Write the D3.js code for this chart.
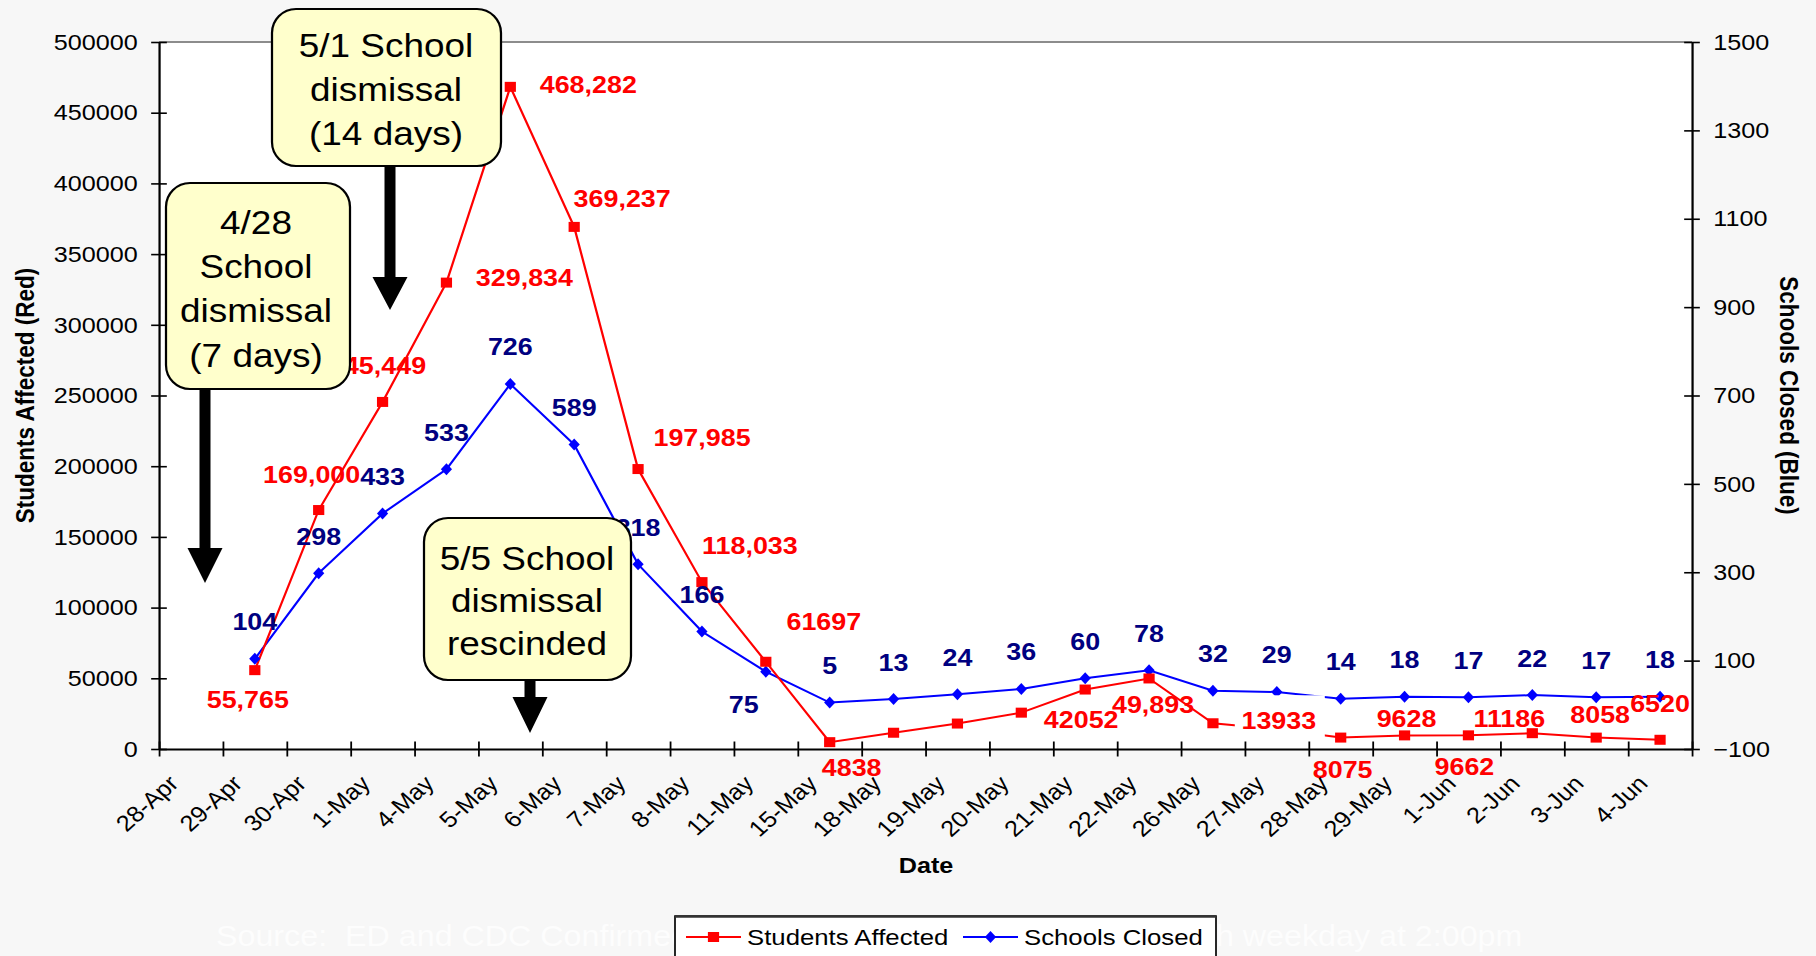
<!DOCTYPE html>
<html>
<head>
<meta charset="utf-8">
<script src="https://cdn.jsdelivr.net/npm/d3@7"></script>
<style>
    html, body { margin: 0; padding: 0; background: #f7f7f7; }
    svg { display: block; font-family: Arial, "Liberation Sans", sans-serif; }
</style>
</head>
<body>
<div class="chart-container"></div>
<script>
// Data
const dates = ['28-Apr', '29-Apr', '30-Apr', '1-May', '4-May', '5-May', '6-May', '7-May', '8-May',
    '11-May', '15-May', '18-May', '19-May', '20-May', '21-May', '22-May', '26-May', '27-May',
    '28-May', '29-May', '1-Jun', '2-Jun', '3-Jun', '4-Jun'];

const studentsAffected = [null, 55765, 169000, 245449, 329834, 468282, 369237, 197985, 118033,
    61697, 4838, 11500, 18000, 25700, 42052, 49893, 18200, 13933,
    8075, 9628, 9662, 11186, 8058, 6520];

const studentLabels = ['', '55,765', '169,000', '245,449', '329,834', '468,282', '369,237', '197,985', '118,033',
    '61697', '4838', '', '', '', '42052', '49,893', '', '13933',
    '8075', '9628', '9662', '11186', '8058', '6520'];

const schoolsClosed = [null, 104, 298, 433, 533, 726, 589, 318, 166,
    75, 5, 13, 24, 36, 60, 78, 32, 29,
    14, 18, 17, 22, 17, 18];

const leftTicks = [0, 50000, 100000, 150000, 200000, 250000, 300000, 350000, 400000, 450000, 500000];
const rightTicks = [-100, 100, 300, 500, 700, 900, 1100, 1300, 1500];

const seriesNames = ['Students Affected', 'Schools Closed'];

// Label placement (offset of label centre from its point, page px)
const redLabelOffset = {
    '29-Apr': [-7, 29], '30-Apr': [-7, -35], '1-May': [-5, -36], '4-May': [78, -5],
    '5-May': [78, -2], '6-May': [48, -28], '7-May': [64, -32], '8-May': [48, -37],
    '11-May': [58, -40], '15-May': [22, 25], '21-May': [-4, 30], '22-May': [4, 26],
    '27-May': [2, -9], '28-May': [2, 32], '29-May': [2, -17], '1-Jun': [-4, 31],
    '2-Jun': [-23, -15], '3-Jun': [4, -23], '4-Jun': [0, -36]
};
const blueLabelOffset = { '11-May': [-22, 33] };

// The original picture is stretched sideways; draw narrower and stretch back
const S = 1.12;
const X = v => v / S;
const W = 1816, H = 956;

const plot = {left: 159, right: 1692, top: 42, bottom: 749};

// Scales
const xScale = d3.scaleBand()
    .domain(dates)
    .range([X(plot.left), X(plot.right)]);

const xEdge = d3.scaleLinear()
    .domain([0, dates.length])
    .range([X(plot.left), X(plot.right)]);

const yLeft = d3.scaleLinear()
    .domain([0, 500000])
    .range([plot.bottom, plot.top]);

const yRight = d3.scaleLinear()
    .domain([-100, 1500])
    .range([plot.bottom, plot.top]);

const cx = d => xScale(d) + xScale.bandwidth() / 2;

// Draw base
const svg = d3.select('.chart-container')
    .append('svg')
    .attr('width', W)
    .attr('height', H)
    .attr('viewBox', `0 0 ${X(W)} ${H}`)
    .attr('preserveAspectRatio', 'none');

svg.append('rect')
    .attr('width', X(W))
    .attr('height', H)
    .attr('fill', '#f7f7f7');

svg.append('rect')
    .attr('x', X(plot.left))
    .attr('y', plot.top)
    .attr('width', X(plot.right - plot.left))
    .attr('height', plot.bottom - plot.top)
    .attr('fill', '#fff');

svg.append('line')
    .attr('x1', X(plot.left)).attr('x2', X(plot.right))
    .attr('y1', plot.top).attr('y2', plot.top)
    .attr('stroke', '#8c8c8c')
    .attr('stroke-width', 2);

// Series
const redPts = dates.map((d, i) => ({date: d, v: studentsAffected[i], label: studentLabels[i]}))
    .filter(d => d.v !== null);
const bluePts = dates.map((d, i) => ({date: d, v: schoolsClosed[i]}))
    .filter(d => d.v !== null);

const redLine = d3.line().x(d => cx(d.date)).y(d => yLeft(d.v));
const blueLine = d3.line().x(d => cx(d.date)).y(d => yRight(d.v));

svg.append('path')
    .datum(bluePts)
    .attr('d', blueLine)
    .attr('fill', 'none')
    .attr('stroke', '#0000ff')
    .attr('stroke-width', 2);

svg.append('path')
    .datum(redPts)
    .attr('d', redLine)
    .attr('fill', 'none')
    .attr('stroke', '#ff0000')
    .attr('stroke-width', 2);

const diamond = 'M0,-6L5,0L0,6L-5,0Z';

svg.selectAll('.blue-marker')
    .data(bluePts)
    .enter()
    .append('path')
    .attr('class', 'blue-marker')
    .attr('d', diamond)
    .attr('transform', d => `translate(${cx(d.date)},${yRight(d.v)})`)
    .attr('fill', '#0000ff');

svg.selectAll('.red-marker')
    .data(redPts)
    .enter()
    .append('rect')
    .attr('class', 'red-marker')
    .attr('x', d => cx(d.date) - 5)
    .attr('y', d => yLeft(d.v) - 5)
    .attr('width', 10)
    .attr('height', 10)
    .attr('fill', '#ff0000');

// 13933 label sits on an opaque white patch
const patched = redPts.find(d => d.date === '27-May');
svg.append('rect')
    .attr('x', cx(patched.date) - X(42))
    .attr('y', yLeft(patched.v) - 34)
    .attr('width', X(90))
    .attr('height', 49)
    .attr('fill', '#fff');

// Data labels
svg.selectAll('.blue-label')
    .data(bluePts)
    .enter()
    .append('text')
    .attr('class', 'blue-label')
    .attr('x', d => cx(d.date) + X((blueLabelOffset[d.date] || [0, -37])[0]))
    .attr('y', d => yRight(d.v) + (blueLabelOffset[d.date] || [0, -37])[1])
    .attr('text-anchor', 'middle')
    .attr('dominant-baseline', 'central')
    .style('font-size', '24px')
    .style('font-weight', 'bold')
    .style('fill', '#000080')
    .text(d => d.v);

svg.selectAll('.red-label')
    .data(redPts.filter(d => d.label))
    .enter()
    .append('text')
    .attr('class', 'red-label')
    .attr('x', d => cx(d.date) + X(redLabelOffset[d.date][0]))
    .attr('y', d => yLeft(d.v) + redLabelOffset[d.date][1])
    .attr('text-anchor', 'middle')
    .attr('dominant-baseline', 'central')
    .style('font-size', '24px')
    .style('font-weight', 'bold')
    .style('fill', '#ff0000')
    .text(d => d.label);

// Axes
const axisStyle = g => {
    g.select('.domain').attr('stroke', '#000').attr('stroke-width', 2);
    g.selectAll('.tick line').attr('stroke', '#000').attr('stroke-width', 1.6);
    g.selectAll('text')
        .style('font-size', '22.5px')
        .style('font-family', 'Arial, "Liberation Sans", sans-serif')
        .style('fill', '#000');
};

const yAxisLeft = svg.append('g')
    .attr('transform', `translate(${X(plot.left)},0)`)
    .call(d3.axisLeft(yLeft).tickValues(leftTicks).tickFormat(d3.format('d'))
        .tickSize(7).tickSizeOuter(0).tickPadding(12))
    .call(axisStyle);
yAxisLeft.selectAll('.tick line').attr('x1', 7);

const yAxisRight = svg.append('g')
    .attr('transform', `translate(${X(plot.right)},0)`)
    .call(d3.axisRight(yRight).tickValues(rightTicks).tickFormat(d3.format('d'))
        .tickSize(7).tickSizeOuter(0).tickPadding(12))
    .call(axisStyle);
yAxisRight.selectAll('.tick line').attr('x1', -7);

const xTicks = svg.append('g')
    .attr('transform', `translate(0,${plot.bottom})`)
    .call(d3.axisBottom(xEdge).tickValues(d3.range(dates.length + 1)).tickFormat('')
        .tickSize(7.5).tickSizeOuter(0))
    .call(axisStyle);
xTicks.selectAll('.tick line').attr('y1', -7.5);

const xAxis = svg.append('g')
    .attr('transform', `translate(0,${plot.bottom})`)
    .call(d3.axisBottom(xScale).tickSize(0))
    .call(axisStyle);
xAxis.select('.domain').remove();
xAxis.selectAll('text')
    .attr('x', 0)
    .attr('y', 0)
    .attr('dy', 0)
    .attr('text-anchor', 'end')
    .attr('transform', `translate(${X(-11)},36) rotate(-45)`);

// Axis titles
svg.append('text')
    .attr('transform', `translate(${X(25)},${(plot.top + plot.bottom) / 2}) rotate(-90)`)
    .attr('text-anchor', 'middle')
    .attr('dominant-baseline', 'central')
    .style('font-size', '22.5px')
    .style('font-weight', 'bold')
    .text('Students Affected (Red)');

svg.append('text')
    .attr('transform', `translate(${X(1789)},${(plot.top + plot.bottom) / 2}) rotate(90)`)
    .attr('text-anchor', 'middle')
    .attr('dominant-baseline', 'central')
    .style('font-size', '22.5px')
    .style('font-weight', 'bold')
    .text('Schools Closed (Blue)');

svg.append('text')
    .attr('x', X(926))
    .attr('y', 873)
    .attr('text-anchor', 'middle')
    .style('font-size', '22.5px')
    .style('font-weight', 'bold')
    .text('Date');

// Source line (almost invisible, partly under the legend)
svg.append('text')
    .attr('x', X(216))
    .attr('y', 946)
    .style('font-size', '28.8px')
    .style('white-space', 'pre')
    .style('fill', '#fdfdfd')
    .text('Source:  ED and CDC Confirmed School Dismissal Data, updated each weekday at 2:00pm');

// Legend
const legend = svg.append('g');
legend.append('rect')
    .attr('x', X(675))
    .attr('y', 916)
    .attr('width', X(541))
    .attr('height', 60)
    .attr('fill', '#fff')
    .attr('stroke', '#000')
    .attr('stroke-width', 1.5);

legend.append('line')
    .attr('x1', X(675)).attr('x2', X(1216))
    .attr('y1', 916.5).attr('y2', 916.5)
    .attr('stroke', '#333')
    .attr('stroke-width', 2.5);

const legendItems = [
    {name: seriesNames[0], color: '#ff0000', x: 686, marker: 'square'},
    {name: seriesNames[1], color: '#0000ff', x: 963, marker: 'diamond'}
];

legendItems.forEach(item => {
    legend.append('line')
        .attr('x1', X(item.x)).attr('x2', X(item.x + 55))
        .attr('y1', 937).attr('y2', 937)
        .attr('stroke', item.color)
        .attr('stroke-width', 2);
    if (item.marker === 'square') {
        legend.append('rect')
            .attr('x', X(item.x + 27.5) - 5).attr('y', 932)
            .attr('width', 10).attr('height', 10)
            .attr('fill', item.color);
    } else {
        legend.append('path')
            .attr('d', diamond)
            .attr('transform', `translate(${X(item.x + 27.5)},937)`)
            .attr('fill', item.color);
    }
    legend.append('text')
        .attr('x', X(item.x + 61))
        .attr('y', 945)
        .style('font-size', '23px')
        .text(item.name);
});

// Annotation boxes with arrows
const notes = [
    {lines: ['5/1 School', 'dismissal', '(14 days)'], x0: 272, x1: 501, y0: 9, y1: 166,
        tx: 386, ty: 45, lh: 44, ax: 390, headY: 277, tipY: 310},
    {lines: ['4/28', 'School', 'dismissal', '(7 days)'], x0: 166, x1: 350, y0: 183, y1: 389,
        tx: 256, ty: 222, lh: 44.3, ax: 205, headY: 548, tipY: 583},
    {lines: ['5/5 School', 'dismissal', 'rescinded'], x0: 424, x1: 631, y0: 518, y1: 680,
        tx: 527, ty: 558, lh: 42.5, ax: 530, headY: 697, tipY: 733}
];

notes.forEach(n => {
    const g = svg.append('g');
    g.append('path')
        .attr('d', `M${X(n.ax - 5.5)},${n.y1}L${X(n.ax + 5.5)},${n.y1}L${X(n.ax + 5.5)},${n.headY}`
            + `L${X(n.ax + 17.5)},${n.headY}L${X(n.ax)},${n.tipY}L${X(n.ax - 17.5)},${n.headY}`
            + `L${X(n.ax - 5.5)},${n.headY}Z`)
        .attr('fill', '#000');
    g.append('rect')
        .attr('x', X(n.x0))
        .attr('y', n.y0)
        .attr('width', X(n.x1 - n.x0))
        .attr('height', n.y1 - n.y0)
        .attr('rx', X(24))
        .attr('ry', 24)
        .attr('fill', '#ffffcc')
        .attr('stroke', '#000')
        .attr('stroke-width', 2);
    n.lines.forEach((t, i) => {
        g.append('text')
            .attr('x', X(n.tx))
            .attr('y', n.ty + i * n.lh)
            .attr('text-anchor', 'middle')
            .attr('dominant-baseline', 'central')
            .style('font-size', '33px')
            .text(t);
    });
});
</script>
</body>
</html>
